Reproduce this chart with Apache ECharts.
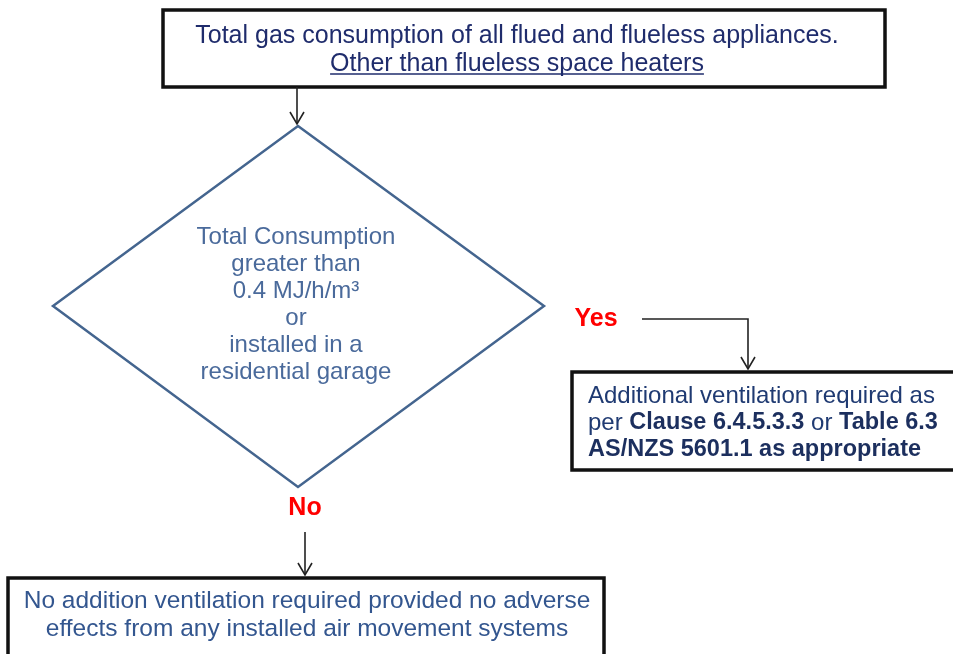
<!DOCTYPE html>
<html>
<head>
<meta charset="utf-8">
<script src="https://cdn.jsdelivr.net/npm/echarts@6/dist/echarts.min.js"></script>
<style>
  html, body { margin: 0; padding: 0; background: #fff; }
  #chart { width: 953px; height: 654px; }
</style>
</head>
<body>
<div id="chart"></div>
<script>
var FONT = "'Liberation Sans', Arial, sans-serif";

// box texts
var startLines = ['Total gas consumption of all flued and flueless appliances.', 'Other than flueless space heaters'];
var decisionLines = ['Total Consumption', 'greater than', '0.4 MJ/h/m\u00b3', 'or', 'installed in a', 'residential garage'];
var yesLines = ['{n|Additional ventilation required as}', '{n|per }{b|Clause 6.4.5.3.3}{n| or }{b|Table 6.3}', '{b|AS/NZS 5601.1 as appropriate}'];
var noLines = ['No addition ventilation required provided no adverse', 'effects from any installed air movement systems'];
var branchLabels = ['Yes', 'No'];

// layout, in pixels of a hidden 953 x 654 grid
var boxRects = [[163, 10, 885, 87], [572, 372, 990, 470], [8, 578, 604, 700]];
var decisionShape = [[298, 126], [544, 306], [298, 487], [53, 306]];
var connectors = [
    [[297, 87], [297, 124]],
    [[642, 319], [748, 319], [748, 369]],
    [[305, 532], [305, 575]]
];
var textAnchors = [[517, 50], [296, 305], [588, 423], [307, 615], [596, 319], [305, 508]];

var myChart = echarts.init(document.getElementById('chart'));

// width of the underlined line, for the underline
function textWidth(str, font) {
    var ctx = document.createElement('canvas').getContext('2d');
    ctx.font = font;
    return ctx.measureText(str).width;
}

var textBlocks = [
    {text: startLines.join('\n'), align: 'center', fill: '#1f2c6c', lineHeight: 28, size: 25},
    {text: decisionLines.join('\n'), align: 'center', fill: '#4a6a9b', lineHeight: 27, size: 24},
    {text: yesLines.join('\n'), align: 'left', fill: '#1f3a72', lineHeight: 26.5, size: 24, rich: true},
    {text: noLines.join('\n'), align: 'center', fill: '#33568f', lineHeight: 28, size: 24.5},
    {text: branchLabels[0], align: 'center', fill: '#ff0000', lineHeight: 28, size: 25, bold: true},
    {text: branchLabels[1], align: 'center', fill: '#ff0000', lineHeight: 28, size: 25, bold: true}
];

function px(api, p) {
    return api.coord([p[0], p[1]]);
}

var option = {
    animation: false,
    grid: {left: 0, right: 0, top: 0, bottom: 0},
    xAxis: {type: 'value', min: 0, max: 953, show: false},
    yAxis: {type: 'value', min: 0, max: 654, inverse: true, show: false},
    series: [
        {
            // boxes
            type: 'custom',
            clip: false,
            data: boxRects,
            renderItem: function (params, api) {
                var a = api.coord([api.value(0), api.value(1)]);
                var b = api.coord([api.value(2), api.value(3)]);
                return {
                    type: 'rect',
                    shape: {x: a[0], y: a[1], width: b[0] - a[0], height: b[1] - a[1]},
                    style: {fill: '#fff', stroke: '#111', lineWidth: 3.5}
                };
            }
        },
        {
            // decision diamond
            type: 'custom',
            clip: false,
            data: [0],
            renderItem: function (params, api) {
                var pts = decisionShape.map(function (p) { return px(api, p); });
                return {
                    type: 'polygon',
                    shape: {points: pts},
                    style: {fill: '#fff', stroke: '#44658f', lineWidth: 2.5}
                };
            }
        },
        {
            // connectors with open arrow heads
            type: 'custom',
            clip: false,
            data: connectors.map(function (c, i) { return i; }),
            renderItem: function (params, api) {
                var pts = connectors[params.dataIndex].map(function (p) { return px(api, p); });
                var tip = pts[pts.length - 1];
                return {
                    type: 'group',
                    children: [
                        {type: 'polyline', shape: {points: pts}, style: {stroke: '#222', lineWidth: 1.6, fill: null}},
                        {type: 'polyline', shape: {points: [[tip[0] - 7, tip[1] - 12], tip, [tip[0] + 7, tip[1] - 12]]},
                            style: {stroke: '#222', lineWidth: 1.6, fill: null}}
                    ]
                };
            }
        },
        {
            // texts
            type: 'custom',
            clip: false,
            data: textAnchors,
            renderItem: function (params, api) {
                var blk = textBlocks[params.dataIndex];
                var p = api.coord([api.value(0), api.value(1)]);
                var font = (blk.bold ? 'bold ' : '') + blk.size + 'px ' + FONT;
                var style = {
                    text: blk.text, x: p[0], y: p[1], fill: blk.fill, font: font,
                    align: blk.align, verticalAlign: 'middle', lineHeight: blk.lineHeight
                };
                if (blk.rich) {
                    style.rich = {
                        n: {fontFamily: FONT, fontSize: blk.size, fill: blk.fill, lineHeight: blk.lineHeight},
                        b: {fontFamily: FONT, fontSize: 23.5, fontWeight: 'bold', fill: '#1c2f5e', lineHeight: blk.lineHeight}
                    };
                }
                var children = [{type: 'text', style: style}];
                if (params.dataIndex === 0) {
                    // underline "Other than flueless space heaters"
                    var w = textWidth(startLines[1], font);
                    var uy = p[1] + blk.lineHeight / 2 + 10;
                    children.push({type: 'line', shape: {x1: p[0] - w / 2, y1: uy, x2: p[0] + w / 2, y2: uy},
                        style: {stroke: blk.fill, lineWidth: 1.3}});
                }
                return {type: 'group', children: children};
            }
        }
    ]
};

myChart.setOption(option);
</script>
</body>
</html>
